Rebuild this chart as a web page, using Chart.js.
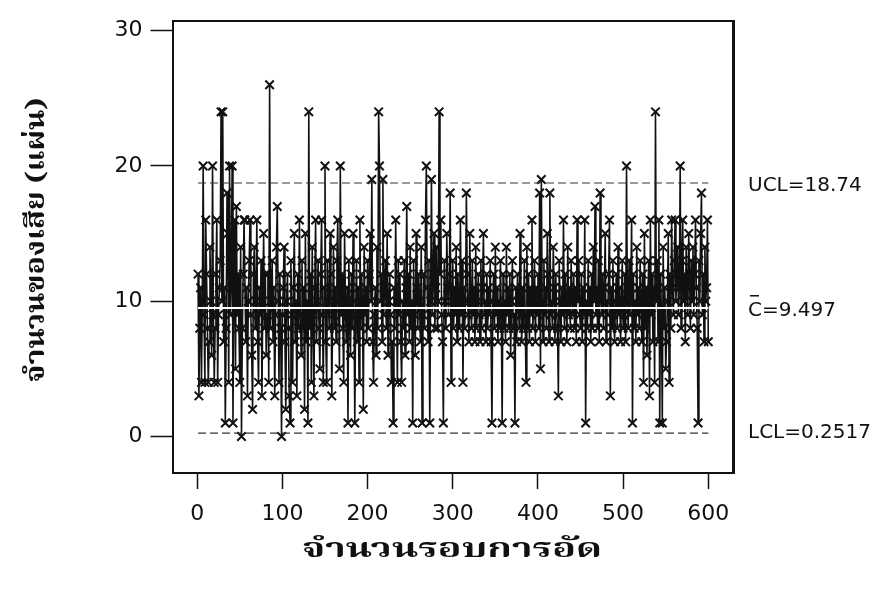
<!DOCTYPE html>
<html lang="th">
  <head>
    <meta charset="UTF-8" />
    <title>c-chart จำนวนของเสีย</title>
    <script src="https://cdn.jsdelivr.net/npm/chart.js@4.4.1/dist/chart.umd.min.js"></script>
    <style>
      html, body { margin: 0; padding: 0; background: #fff; }
      #wrap { width: 883px; height: 595px; }
    </style>
  </head>
  <body>
    <div id="wrap"><canvas id="c" width="883" height="595"></canvas></div>

    <script>
      // ค่าที่อ่านจากภาพ (ประมาณ) - จำนวนของเสียต่อรอบการอัด 600 รอบ
      const defects = [
        12,3,8,11,4,10,20,9,4,16,12,8,4,7,14,10,6,20,9,4,
        8,12,16,4,9,11,13,24,10,24,7,11,1,8,18,15,4,20,9,12,
        20,1,11,16,5,17,9,12,8,4,14,0,8,12,16,16,7,11,3,10,
        13,16,9,6,2,12,14,8,10,16,7,4,11,9,13,3,10,15,8,12,
        6,9,12,4,26,8,10,13,7,11,3,9,14,17,10,4,12,8,0,9,
        11,14,7,2,10,12,8,3,1,13,9,4,11,15,7,10,3,12,8,16,
        9,6,13,8,11,2,15,7,10,1,24,8,12,4,14,9,3,11,16,7,
        10,13,8,5,12,16,9,4,11,20,7,4,13,10,8,15,12,3,9,14,
        8,11,7,13,16,10,5,20,9,12,8,4,15,10,7,11,1,13,9,6,
        12,8,15,10,1,9,13,7,11,4,16,8,12,10,2,14,9,11,7,13,
        8,12,15,10,19,7,4,9,11,6,14,8,24,20,10,12,7,19,9,11,
        13,8,15,6,10,12,9,4,7,1,11,8,16,10,4,13,9,12,7,4,
        10,8,13,6,11,17,9,12,7,14,8,10,1,13,9,6,15,11,8,12,
        10,7,14,1,9,12,8,16,20,11,7,13,1,10,19,9,12,15,8,11,
        14,8,10,24,12,16,9,7,1,13,10,8,15,11,9,12,18,4,10,13,
        8,11,9,14,7,12,10,8,16,9,13,4,11,8,10,18,12,9,7,15,
        10,8,13,9,11,7,14,8,10,12,9,7,13,8,11,15,9,10,7,12,
        8,11,9,13,7,1,10,12,8,14,9,11,7,10,8,13,9,1,12,8,
        10,7,14,9,11,8,12,6,10,13,8,9,1,11,7,12,10,8,15,9,
        7,11,8,13,9,4,14,8,12,7,11,9,16,8,10,13,7,11,9,12,
        8,18,5,19,10,7,13,9,11,8,15,12,7,18,9,10,8,14,11,7,
        12,9,8,3,13,10,7,11,9,16,8,12,10,7,14,9,11,8,13,10,
        9,12,8,11,7,16,10,13,9,8,12,7,11,9,16,1,10,8,13,9,
        11,7,12,8,14,10,17,9,11,8,13,7,18,10,9,12,8,11,15,7,
        10,9,12,16,3,11,8,13,9,7,10,12,8,14,9,11,7,10,13,8,
        9,12,7,20,10,8,13,9,11,16,1,12,8,10,7,14,9,11,8,13,
        10,7,12,4,15,8,11,6,10,13,3,16,9,12,7,11,4,24,10,13,
        7,16,1,12,9,1,14,8,11,5,7,10,15,4,12,8,16,11,9,13,
        16,10,12,14,9,11,20,8,13,16,10,12,7,14,11,9,15,12,8,13,
        10,14,9,12,16,11,8,1,13,10,15,18,9,12,7,14,10,11,16,7
      ];
      const samples = defects.map((v, i) => i + 1);

      const UCL = 18.74;
      const CL = 9.497;
      const LCL = 0.2517;
      const xTicks = [0, 100, 200, 300, 400, 500, 600];
      const yTicks = [0, 10, 20, 30];

      const yTitle = "จำนวนของเสีย (แผ่น)";
      const xTitle = "จำนวนรอบการอัด";

      const tickFont = { family: "'DejaVu Sans', Verdana, sans-serif", size: 22 };
      const thaiFont = "'Noto Serif Thai', 'Noto Sans Thai', Garuda, 'Noto Sans', serif";

      const pts = samples.map((x, i) => ({ x: x, y: defects[i] }));
      const first = samples[0];
      const last = samples[samples.length - 1];
      const hline = (v) => [{ x: first, y: v }, { x: last, y: v }];

      // วาดข้อความให้กว้างตามที่ต้องการ
      function stretchText(ctx, text, cx, cy, width) {
        const w = ctx.measureText(text).width;
        ctx.save();
        ctx.translate(cx, cy);
        ctx.scale(width / w, 1);
        ctx.fillText(text, 0, 0);
        ctx.restore();
      }

      // ข้อความและชื่อแกน
      const labelsPlugin = {
        id: "labels",
        afterDraw(chart) {
          const ctx = chart.ctx;
          const ys = chart.scales.y;
          const area = chart.chartArea;
          ctx.save();
          ctx.fillStyle = "#111";
          ctx.font = "20px 'DejaVu Sans', Verdana, sans-serif";
          ctx.textBaseline = "middle";
          ctx.textAlign = "left";
          const lx = area.right + 15;
          ctx.fillText("UCL=" + UCL, lx, ys.getPixelForValue(UCL) + 3);
          const cy = ys.getPixelForValue(CL) + 3;
          ctx.fillText("C=" + CL, lx, cy);
          ctx.fillRect(lx + 2, cy - 16, 9, 1.5);
          ctx.fillText("LCL=" + LCL, lx, ys.getPixelForValue(LCL));

          ctx.font = "bold 26px " + thaiFont;
          ctx.textAlign = "center";
          stretchText(ctx, xTitle, 452, 553, 300);
          ctx.translate(40, 240);
          ctx.rotate(-Math.PI / 2);
          stretchText(ctx, yTitle, 0, 0, 285);
          ctx.restore();
        },
      };

      new Chart(document.getElementById("c"), {
        type: "line",
        data: {
          datasets: [
            {
              data: pts,
              borderColor: "#111",
              borderWidth: 1.6,
              pointStyle: "crossRot",
              pointRadius: 6,
              pointBorderColor: "#111",
              pointBorderWidth: 2,
              order: 2,
            },
            {
              data: hline(CL),
              borderColor: "#ffffff",
              borderWidth: 2,
              pointRadius: 0,
              order: 1,
            },
            {
              data: hline(UCL),
              borderColor: "#333",
              borderWidth: 1.2,
              borderDash: [8, 4],
              pointRadius: 0,
              order: 0,
            },
            {
              data: hline(LCL),
              borderColor: "#333",
              borderWidth: 1.2,
              borderDash: [8, 4],
              pointRadius: 0,
              order: 0,
            },
          ],
        },
        options: {
          responsive: false,
          animation: false,
          layout: { padding: { top: 18, right: 150, left: 0, bottom: 0 } },
          plugins: { legend: { display: false }, tooltip: { enabled: false } },
          scales: {
            x: {
              type: "linear",
              min: -29,
              max: 629,
              afterBuildTicks: (s) => { s.ticks = xTicks.map((v) => ({ value: v })); },
              afterFit: (s) => { s.height = 122; },
              grid: { drawOnChartArea: false, tickLength: 16, color: "#111", tickWidth: 1.5 },
              border: { color: "#111", width: 2 },
              ticks: { color: "#111", font: tickFont, padding: 12, maxRotation: 0 },
            },
            y: {
              min: -2.7,
              max: 30.7,
              afterBuildTicks: (s) => { s.ticks = yTicks.map((v) => ({ value: v })); },
              afterFit: (s) => { s.width = 172.5; },
              grid: { drawOnChartArea: false, tickLength: 22, color: "#111", tickWidth: 1.5 },
              border: { color: "#111", width: 2 },
              ticks: { color: "#111", font: tickFont, padding: 8 },
            },
            x2: {
              type: "linear", position: "top", display: true,
              grid: { display: false }, ticks: { display: false },
              border: { color: "#111", width: 2 },
              afterFit: (s) => { s.height = 0; },
            },
            y2: {
              position: "right", display: true,
              grid: { display: false }, ticks: { display: false },
              border: { color: "#111", width: 3 },
              afterFit: (s) => { s.width = 0; },
            },
          },
        },
        plugins: [labelsPlugin],
      });
    </script>
  </body>
</html>
